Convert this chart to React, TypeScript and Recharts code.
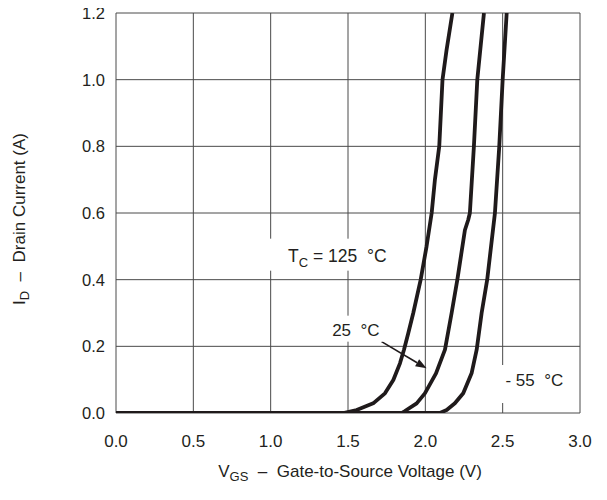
import React from 'react';
import { LineChart, Line, XAxis, YAxis, CartesianGrid, ReferenceDot, ReferenceLine } from 'recharts';

const xTicks = [0, 0.5, 1.0, 1.5, 2.0, 2.5, 3.0];
const yTicks = [0, 0.2, 0.4, 0.6, 0.8, 1.0, 1.2];

const curve125 = [
  { v: 0, i: 0 }, { v: 1.47, i: 0 }, { v: 1.556, i: 0.009 }, { v: 1.663, i: 0.029 },
  { v: 1.739, i: 0.059 }, { v: 1.793, i: 0.099 }, { v: 1.836, i: 0.149 }, { v: 1.862, i: 0.19 },
  { v: 1.89, i: 0.24 }, { v: 1.922, i: 0.3 }, { v: 1.97, i: 0.4 }, { v: 2.008, i: 0.5 },
  { v: 2.041, i: 0.6 }, { v: 2.062, i: 0.7 }, { v: 2.09, i: 0.8 }, { v: 2.111, i: 1.0 },
  { v: 2.137, i: 1.088 }, { v: 2.175, i: 1.2 },
];
const curve25 = [
  { v: 0, i: 0 }, { v: 1.847, i: 0 }, { v: 1.868, i: 0.006 }, { v: 1.944, i: 0.029 },
  { v: 1.997, i: 0.059 }, { v: 2.069, i: 0.119 }, { v: 2.127, i: 0.19 }, { v: 2.17, i: 0.3 },
  { v: 2.207, i: 0.4 }, { v: 2.256, i: 0.549 }, { v: 2.277, i: 0.579 }, { v: 2.288, i: 0.6 },
  { v: 2.314, i: 0.8 }, { v: 2.336, i: 1.0 }, { v: 2.379, i: 1.2 },
];
const curveMinus55 = [
  { v: 0, i: 0 }, { v: 2.094, i: 0 }, { v: 2.138, i: 0.009 }, { v: 2.191, i: 0.029 },
  { v: 2.245, i: 0.059 }, { v: 2.299, i: 0.119 }, { v: 2.332, i: 0.19 }, { v: 2.364, i: 0.3 },
  { v: 2.4, i: 0.4 }, { v: 2.45, i: 0.6 }, { v: 2.478, i: 0.8 }, { v: 2.5, i: 1.0 },
  { v: 2.526, i: 1.2 },
];

const FONT = '"Liberation Sans", Arial, Helvetica, sans-serif';
const TXT = '#231f20';
const GRID = '#4a4a4a';
const CURVE = '#1f1a1b';

const NB = '\u00a0';

function LabelTC(p: any) {
  const { cx, cy } = p;
  return (
    <g>
      <rect x={cx - 70} y={cy - 17} width={128} height={32} fill="#fff" />
      <text x={cx - 50} y={cy + 6} fontFamily={FONT} fontSize={17.5} fill={TXT}>
        <tspan>T</tspan>
        <tspan dy={5} fontSize={13}>C</tspan>
        <tspan dy={-5}>{NB}={NB}125{NB}{NB}°C</tspan>
      </text>
    </g>
  );
}

function Label25(p: any) {
  const { cx, cy } = p;
  return (
    <g>
      <rect x={cx - 28} y={cy - 14} width={56} height={26} fill="#fff" />
      <text x={cx} y={cy + 6} textAnchor="middle" fontFamily={FONT} fontSize={17} fill={TXT}>
        25{NB}{NB}°C
      </text>
    </g>
  );
}

function Label55(p: any) {
  const { cx, cy } = p;
  return (
    <g>
      <rect x={cx - 35} y={cy - 15} width={70} height={38} fill="#fff" />
      <text x={cx} y={cy + 6} textAnchor="middle" fontFamily={FONT} fontSize={17} fill={TXT}>
        -{NB}55{NB}{NB}°C
      </text>
    </g>
  );
}

function Arrow(p: any) {
  const { x1, y1, x2, y2 } = p;
  const ang = Math.atan2(y2 - y1, x2 - x1);
  const len = 11;
  const w = 4;
  const bx = x2 - len * Math.cos(ang);
  const by = y2 - len * Math.sin(ang);
  const nx = -Math.sin(ang) * w;
  const ny = Math.cos(ang) * w;
  return (
    <g>
      <line x1={x1} y1={y1} x2={bx} y2={by} stroke={CURVE} strokeWidth={1.6} />
      <polygon points={`${x2},${y2} ${bx + nx},${by + ny} ${bx - nx},${by - ny}`} fill={CURVE} />
    </g>
  );
}

function YLabel(p: any) {
  const vb = p.viewBox || {};
  const x = (vb.x ?? 0) + 25;
  const y = (vb.y ?? 0) + (vb.height ?? 0) / 2 + 6;
  return (
    <text x={x} y={y} transform={`rotate(-90 ${x} ${y})`} textAnchor="middle" fontFamily={FONT} fontSize={17} fill={TXT}>
      <tspan>I</tspan>
      <tspan dy={4} fontSize={13}>D</tspan>
      <tspan dy={-4}>{NB}{NB}–{NB}{NB}Drain Current (A)</tspan>
    </text>
  );
}

function XLabel(p: any) {
  const vb = p.viewBox || {};
  const x = (vb.x ?? 0) + (vb.width ?? 0) / 2 + 2;
  const y = (vb.y ?? 0) + 64;
  return (
    <text x={x} y={y} textAnchor="middle" fontFamily={FONT} fontSize={17} fill={TXT}>
      <tspan>V</tspan>
      <tspan dy={4} fontSize={13}>GS</tspan>
      <tspan dy={-4}>{NB}{NB}–{NB}{NB}Gate-to-Source Voltage (V)</tspan>
    </text>
  );
}

export default function App() {
  return (
    <div style={{ width: 607, height: 500, margin: -8, background: '#fff' }}>
      <LineChart width={607} height={500} margin={{ top: 13, right: 27, left: 0, bottom: 0 }}>
        <CartesianGrid stroke={GRID} strokeWidth={1} />
        <XAxis
          type="number"
          dataKey="v"
          domain={[0, 3]}
          ticks={xTicks}
          interval={0}
          allowDataOverflow
          tickFormatter={(v: number) => v.toFixed(1)}
          axisLine={false}
          tickLine={false}
          tickSize={0}
          tickMargin={22}
          height={87}
          tick={{ fill: TXT, fontSize: 17, fontFamily: FONT }}
          label={{ content: (props: any) => <XLabel {...props} /> }}
        />
        <YAxis
          type="number"
          dataKey="i"
          domain={[0, 1.2]}
          ticks={yTicks}
          interval={0}
          allowDataOverflow
          tickFormatter={(v: number) => v.toFixed(1)}
          axisLine={false}
          tickLine={false}
          tickSize={0}
          tickMargin={11}
          width={116}
          tick={{ fill: TXT, fontSize: 16.5, fontFamily: FONT }}
          label={{ content: (props: any) => <YLabel {...props} /> }}
        />
        <ReferenceDot x={1.435} y={0.472} r={1} shape={(p: any) => <LabelTC {...p} />} />
        <ReferenceDot x={1.551} y={0.25} r={1} shape={(p: any) => <Label25 {...p} />} />
        <ReferenceDot x={2.705} y={0.099} r={1} shape={(p: any) => <Label55 {...p} />} />
        <ReferenceLine
          segment={[{ x: 1.717, y: 0.214 }, { x: 2.008, y: 0.134 }]}
          shape={(p: any) => <Arrow {...p} />}
        />
        <Line data={curve125} dataKey="i" type="linear" stroke={CURVE} strokeWidth={3.8} dot={false} isAnimationActive={false} strokeLinejoin="round" />
        <Line data={curve25} dataKey="i" type="linear" stroke={CURVE} strokeWidth={3.8} dot={false} isAnimationActive={false} strokeLinejoin="round" />
        <Line data={curveMinus55} dataKey="i" type="linear" stroke={CURVE} strokeWidth={3.8} dot={false} isAnimationActive={false} strokeLinejoin="round" />
      </LineChart>
    </div>
  );
}
